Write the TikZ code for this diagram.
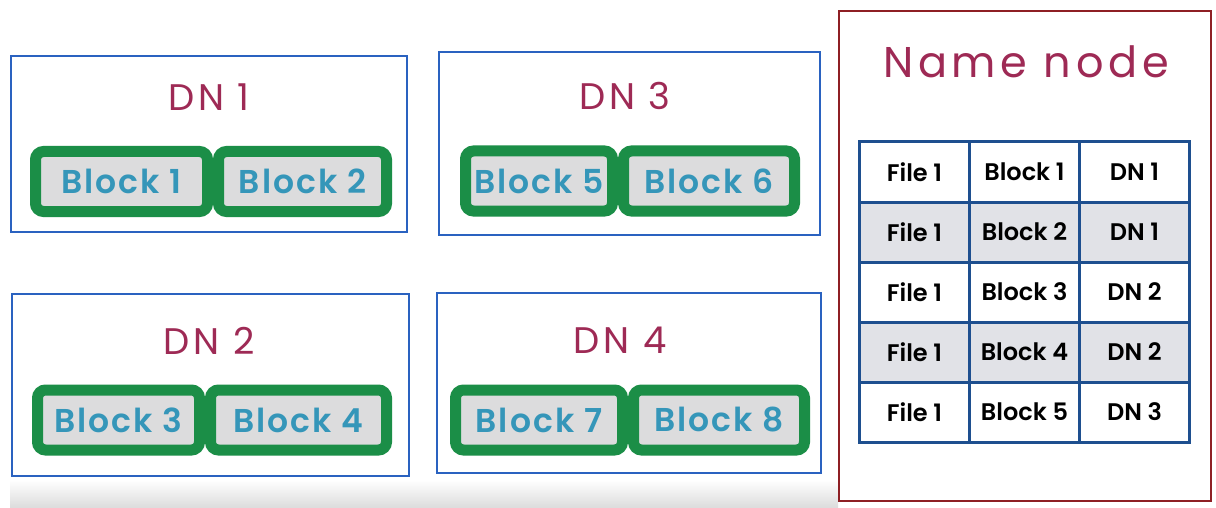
\documentclass[tikz,border=0pt]{standalone}
\usepackage{fontspec}
\setmainfont{Poppins}
\newfontfamily\semib{Poppins SemiBold}
\newfontfamily\lightf{Poppins}
\definecolor{dnred}{HTML}{9E2A55}
\definecolor{boxblue}{HTML}{2A62C0}
\definecolor{blkgreen}{HTML}{1B8E47}
\definecolor{blkgray}{HTML}{DCDCDD}
\definecolor{blktext}{HTML}{3596B9}
\definecolor{nnred}{HTML}{8E1F24}
\definecolor{tabblue}{HTML}{1E4F8F}
\definecolor{rowgray}{HTML}{E1E2E7}
\begin{document}
\begin{tikzpicture}[x=1pt,y=-1pt,
  dnbox/.style={draw=boxblue, line width=2.8pt, inner sep=0pt},
  dnlabel/.style={text=dnred, font=\lightf\fontsize{37}{40}\selectfont\addfontfeatures{LetterSpace=10}, inner sep=0pt},
  blk/.style={draw=blkgreen, fill=blkgray, line width=11pt, rounded corners=8pt,
    text=blktext, font=\semib\fontsize{33}{36}\selectfont\addfontfeatures{LetterSpace=6}, inner sep=0pt,
    minimum height=60pt},
  cell/.style={draw=tabblue, line width=3pt, minimum width=110pt, minimum height=60pt,
    inner sep=0pt, font=\semib\fontsize{24}{28}\selectfont, text=black},
  grayrow/.style={fill=rowgray}]
\useasboundingbox (0,0) rectangle (1216,508);
\fill[white] (0,0) rectangle (1216,508);
% bottom band
\shade[top color=white, bottom color=black!14] (10,480) rectangle (838,508);

% Data nodes
\node[dnbox, minimum width=396pt, minimum height=176pt] (dn1) at (209,144) {};
\node[dnbox, minimum width=381pt, minimum height=183pt] (dn3) at (629.5,143.5) {};
\node[dnbox, minimum width=397pt, minimum height=182pt] (dn2) at (210.5,385) {};
\node[dnbox, minimum width=384pt, minimum height=180pt] (dn4) at (629,383) {};

\node[dnlabel] (l1) at (209,97) {DN 1};
\node[dnlabel] (l3) at (625,96) {DN 3};
\node[dnlabel] (l2) at (209,341) {DN 2};
\node[dnlabel] (l4) at (620,340) {DN 4};

\node[blk, minimum width=172pt] (b1) at (121.5,181.5) {Block 1};
\node[blk, minimum width=168pt] (b2) at (302.5,181.5) {Block 2};
\node[blk, minimum width=147pt] (b5) at (539,181) {Block 5};
\node[blk, minimum width=171pt] (b6) at (709,181) {Block 6};
\node[blk, minimum width=162pt] (b3) at (118.5,420) {Block 3};
\node[blk, minimum width=176pt] (b4) at (298.5,420) {Block 4};
\node[blk, minimum width=167pt] (b7) at (539,420) {Block 7};
\node[blk, minimum width=171pt] (b8) at (719,420) {Block 8};

% Name node
\node[draw=nnred, line width=2pt, minimum width=372pt, minimum height=490pt, inner sep=0pt] (nn) at (1025,256) {};
\node[text=dnred, font=\lightf\fontsize{43}{46}\selectfont\addfontfeatures{LetterSpace=11}, inner sep=0pt] (nnl) at (1026,62) {Name node};

% Table
\foreach \r/\blk/\dn [count=\i] in {1/1/1, 2/2/1, 3/3/2, 4/4/2, 5/5/3}{
  \pgfmathsetmacro{\yy}{142+30+(\i-1)*60}
  \ifodd\i \def\rs{}\else\def\rs{grayrow}\fi
  \node[cell, \rs] (f\i) at (914.5,\yy) {File 1};
  \node[cell, \rs] (k\i) at (1024.5,\yy) {Block \blk};
  \node[cell, \rs] (d\i) at (1134.5,\yy) {DN \dn};
}
\end{tikzpicture}
\end{document}
